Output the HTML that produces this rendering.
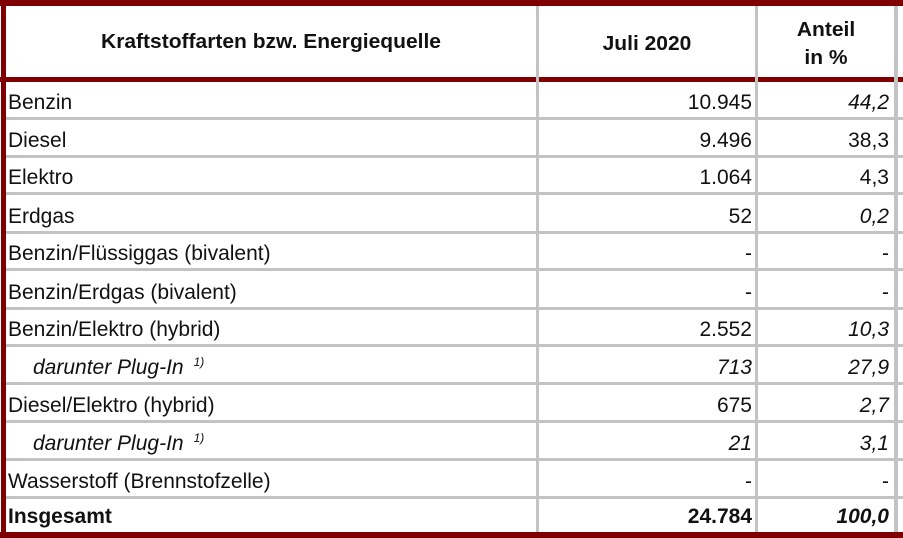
<!DOCTYPE html>
<html><head><meta charset="utf-8">
<style>
html,body{margin:0;padding:0;background:#fff;}
body{width:903px;height:538px;position:relative;overflow:hidden;font-family:"Liberation Sans",Arial,sans-serif;color:#111;}
.r{position:absolute;background:#7f0000;}
.g{position:absolute;background:#c3c3c3;}
.t{position:absolute;font-size:21px;line-height:21px;white-space:nowrap;}
.h{position:absolute;font-size:20px;line-height:20px;font-weight:bold;white-space:nowrap;text-align:center;transform:scaleX(1.05);transform-origin:center;}
.n{text-align:right;}
.i{font-style:italic;}
.b{font-weight:bold;}
sup{font-size:12px;position:relative;top:-5px;vertical-align:top;margin-left:10px;}
</style></head><body>
<!-- red borders -->
<div class="r" style="left:0;top:0;width:903px;height:6px"></div>
<div class="r" style="left:1px;top:0;width:5px;height:538px"></div>
<div class="r" style="left:0;top:77px;width:903px;height:5px"></div>
<div class="r" style="left:0;top:532px;width:903px;height:6px"></div>
<!-- vertical gray -->
<div class="g" style="left:536px;top:6px;width:3px;height:526px"></div>
<div class="g" style="left:755px;top:6px;width:3px;height:526px"></div>
<div class="g" style="left:894px;top:6px;width:4px;height:526px"></div>
<!-- horizontal gray -->
<div class="g" style="left:6px;top:116.5px;width:897px;height:3px"></div>
<div class="g" style="left:6px;top:154.5px;width:897px;height:3px"></div>
<div class="g" style="left:6px;top:192px;width:897px;height:3px"></div>
<div class="g" style="left:6px;top:230.5px;width:897px;height:3px"></div>
<div class="g" style="left:6px;top:268px;width:897px;height:3px"></div>
<div class="g" style="left:6px;top:306.5px;width:897px;height:3px"></div>
<div class="g" style="left:6px;top:343.5px;width:897px;height:3px"></div>
<div class="g" style="left:6px;top:382px;width:897px;height:3px"></div>
<div class="g" style="left:6px;top:419.5px;width:897px;height:3px"></div>
<div class="g" style="left:6px;top:457.5px;width:897px;height:3px"></div>
<div class="g" style="left:6px;top:495.5px;width:897px;height:3px"></div>
<!-- header -->
<div class="h" style="left:71px;width:400px;top:31.5px">Kraftstoffarten bzw. Energiequelle</div>
<div class="h" style="left:547px;width:200px;top:33.5px">Juli 2020</div>
<div class="h" style="left:776px;width:100px;top:20px">Anteil</div>
<div class="h" style="left:776px;width:100px;top:48px">in %</div>

<!-- rows: col1 -->
<div class="t" style="left:8px;top:91.7px">Benzin</div>
<div class="t" style="left:8px;top:129.7px">Diesel</div>
<div class="t" style="left:8px;top:167.2px">Elektro</div>
<div class="t" style="left:8px;top:205.7px">Erdgas</div>
<div class="t" style="left:8px;top:243.2px">Benzin/Flüssiggas (bivalent)</div>
<div class="t" style="left:8px;top:281.7px">Benzin/Erdgas (bivalent)</div>
<div class="t" style="left:8px;top:318.7px">Benzin/Elektro (hybrid)</div>
<div class="t i" style="left:33px;top:357.2px">darunter Plug-In<sup>1)</sup></div>
<div class="t" style="left:8px;top:394.7px">Diesel/Elektro (hybrid)</div>
<div class="t i" style="left:33px;top:432.7px">darunter Plug-In<sup>1)</sup></div>
<div class="t" style="left:8px;top:470.7px">Wasserstoff (Brennstofzelle)</div>
<div class="t b" style="left:8px;top:505.7px">Insgesamt</div>

<!-- col2 -->
<div class="t n" style="left:550px;width:202px;top:91.7px">10.945</div>
<div class="t n" style="left:550px;width:202px;top:129.7px">9.496</div>
<div class="t n" style="left:550px;width:202px;top:167.2px">1.064</div>
<div class="t n" style="left:550px;width:202px;top:205.7px">52</div>
<div class="t n" style="left:550px;width:202px;top:243.2px">-</div>
<div class="t n" style="left:550px;width:202px;top:281.7px">-</div>
<div class="t n" style="left:550px;width:202px;top:318.7px">2.552</div>
<div class="t n i" style="left:550px;width:202px;top:357.2px">713</div>
<div class="t n" style="left:550px;width:202px;top:394.7px">675</div>
<div class="t n i" style="left:550px;width:202px;top:432.7px">21</div>
<div class="t n" style="left:550px;width:202px;top:470.7px">-</div>
<div class="t n b" style="left:550px;width:202px;top:505.7px">24.784</div>

<!-- col3 -->
<div class="t n i" style="left:770px;width:119px;top:91.7px">44,2</div>
<div class="t n" style="left:770px;width:119px;top:129.7px">38,3</div>
<div class="t n" style="left:770px;width:119px;top:167.2px">4,3</div>
<div class="t n i" style="left:770px;width:119px;top:205.7px">0,2</div>
<div class="t n" style="left:770px;width:119px;top:243.2px">-</div>
<div class="t n" style="left:770px;width:119px;top:281.7px">-</div>
<div class="t n i" style="left:770px;width:119px;top:318.7px">10,3</div>
<div class="t n i" style="left:770px;width:119px;top:357.2px">27,9</div>
<div class="t n i" style="left:770px;width:119px;top:394.7px">2,7</div>
<div class="t n i" style="left:770px;width:119px;top:432.7px">3,1</div>
<div class="t n" style="left:770px;width:119px;top:470.7px">-</div>
<div class="t n b i" style="left:770px;width:119px;top:505.7px">100,0</div>
</body></html>
